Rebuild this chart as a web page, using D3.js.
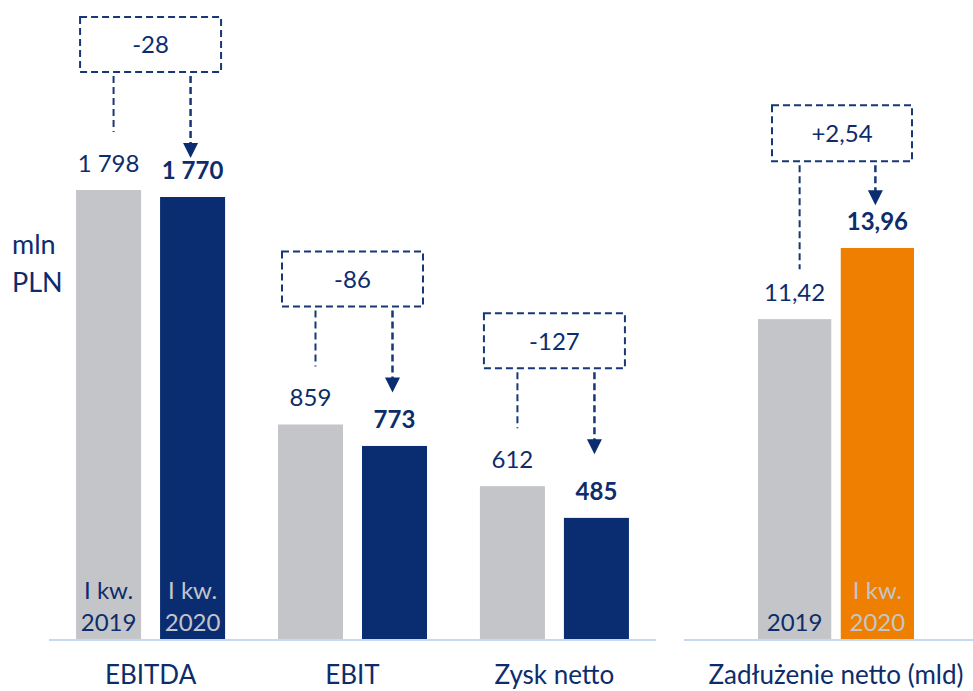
<!DOCTYPE html>
<html>
<head>
<meta charset="utf-8">
<script src="https://cdnjs.cloudflare.com/ajax/libs/d3/7.8.5/d3.min.js"></script>
<style>
  body { margin: 0; background: #fff; }
  text { font-family: Lato, "Noto Sans", sans-serif; fill: #0d2c6c; }
</style>
</head>
<body>
<svg id="svg" width="973" height="691"></svg>
<script>
// data
const categories = ["EBITDA", "EBIT", "Zysk netto"];
const values2019 = [1798, 859, 612];
const values2020 = [1770, 773, 485];
const periodsLeft = [["I kw.", "2019"], ["I kw.", "2020"]];

const debtCategory = ["Zadłużenie netto (mld)"];
const debt2019 = [11.42];
const debt2020 = [13.96];
const periodsRight = [["2019"], ["I kw.", "2020"]];

const unitLabel = ["mln", "PLN"];

// colours
const cGray = "#c4c5c9", cNavy = "#0a2d72", cOrange = "#ee7f00", cText = "#0d2c6c", cAxis = "#c6d9f1";

const pl = d3.formatLocale({decimal: ",", thousands: " ", grouping: [3], currency: ["", " zł"], minus: "-"});
const fmtInt = pl.format(",d"), fmtDec = pl.format(",.2f");
const fmtDeltaInt = pl.format("+,d"), fmtDeltaDec = pl.format("+,.2f");

var svg = d3.select("#svg");
var baseY = 639;

// scales
let yL = d3.scaleLinear().domain([0, 1800]).range([baseY, baseY - 449.5]);
let yR = d3.scaleLinear().domain([0, 14]).range([baseY, baseY - 14 * 28.01]);

let xL = d3.scaleBand().domain(categories).range([49, 656]).paddingInner(0.262).paddingOuter(0.134);
let xLi = d3.scaleBand().domain([0, 1]).range([0, xL.bandwidth()]).paddingInner(0.226);
let xR = d3.scaleBand().domain(debtCategory).range([758, 914]);
let xRi = d3.scaleBand().domain([0, 1]).range([0, xR.bandwidth()]).paddingInner(0.115);

// baselines
svg.append("line").attr("x1", 49).attr("x2", 656).attr("y1", baseY + 1).attr("y2", baseY + 1)
	.style("stroke", cAxis).style("stroke-width", 2);
svg.append("line").attr("x1", 684).attr("x2", 973).attr("y1", baseY + 1).attr("y2", baseY + 1)
	.style("stroke", cAxis).style("stroke-width", 2);

function drawPanel(cats, prev, curr, x, xi, y, colNew, periods, fmtV, fmtD, tpl) {
	let g = svg.append("g");
	let rows = cats.map((c, i) => ({c: c, prev: prev[i], curr: curr[i]}));

	rows.forEach((r, ri) => {
		let series = [
			{k: 0, v: r.prev, fill: cGray, bold: false},
			{k: 1, v: r.curr, fill: colNew, bold: true}
		];
		series.forEach(s => {
			let bx = x(r.c) + xi(s.k), cx = bx + xi.bandwidth() / 2;
			g.append("rect")
				.attr("x", bx).attr("y", y(s.v))
				.attr("width", xi.bandwidth()).attr("height", y(0) - y(s.v))
				.style("fill", s.fill);
			// value label
			g.append("text")
				.attr("x", cx).attr("y", y(s.v) - 18)
				.attr("text-anchor", "middle")
				.style("font-size", "24px")
				.style("font-weight", s.bold ? 700 : 400)
				.text(fmtV(s.v));
			// period label inside the first group's bars only
			if (ri > 0) return;
			let lines = periods[s.k];
			lines.forEach((t, j) => {
				g.append("text")
					.attr("x", cx).attr("y", baseY - 8 - (lines.length - 1 - j) * 32)
					.attr("text-anchor", "middle")
					.style("font-size", "24px")
					.style("fill", s.k === 0 ? cText : cGray)
					.text(t);
			});
		});

		// category label
		g.append("text")
			.attr("x", x(r.c) + x.bandwidth() / 2).attr("y", 684)
			.attr("text-anchor", "middle")
			.style("font-size", "26px")
			.text(r.c);

		// change annotation
		let gx = x(r.c) + x.bandwidth() / 2;
		let boxTop = y(r.prev) - tpl.boxAbove, boxBot = boxTop + tpl.boxH;
		let lx = x(r.c) + xi(0) + xi.bandwidth() / 2 + 5;
		let rx = x(r.c) + xi(1) + xi.bandwidth() / 2 - 2;
		let tip = boxBot + tpl.arrowLen;
		let dash = {"stroke": "#173776", "stroke-width": 2, "stroke-dasharray": "7,4", "fill": "none"};
		let rect = g.append("rect")
			.attr("x", gx - tpl.boxW / 2 + tpl.shift).attr("y", boxTop)
			.attr("width", tpl.boxW).attr("height", tpl.boxH);
		let legL = g.append("line").attr("x1", lx).attr("x2", lx).attr("y1", boxBot + 4).attr("y2", boxBot + tpl.leftLeg);
		let legR = g.append("line").attr("x1", rx).attr("x2", rx).attr("y1", boxBot + 4).attr("y2", tip - 14);
		[rect, legL, legR].forEach(e => Object.keys(dash).forEach(k => e.style(k, dash[k])));
		legR.style("stroke-width", 2.5);
		g.append("path")
			.attr("d", `M${rx - 7.5},${tip - 15}L${rx + 7.5},${tip - 15}L${rx},${tip}Z`)
			.style("fill", cNavy);
		g.append("text")
			.attr("x", gx + tpl.shift).attr("y", boxTop + tpl.boxH / 2 + 9)
			.attr("text-anchor", "middle")
			.style("font-size", "24px")
			.text(fmtD(r.curr - r.prev));
	});
}

drawPanel(categories, values2019, values2020, xL, xLi, yL, cNavy, periodsLeft, fmtInt,
	d => fmtDeltaInt(Math.round(d)),
	{boxAbove: 173, boxW: 141, boxH: 55, leftLeg: 60, arrowLen: 86, shift: 0});

drawPanel(debtCategory, debt2019, debt2020, xR, xRi, yR, cOrange, periodsRight, fmtDec,
	d => fmtDeltaDec(d),
	{boxAbove: 214, boxW: 140, boxH: 56, leftLeg: 108, arrowLen: 44, shift: 6});

// unit label
unitLabel.forEach((t, i) => {
	svg.append("text")
		.attr("x", 12).attr("y", 254 + i * 38)
		.style("font-size", "27px")
		.text(t);
});
</script>
</body>
</html>
